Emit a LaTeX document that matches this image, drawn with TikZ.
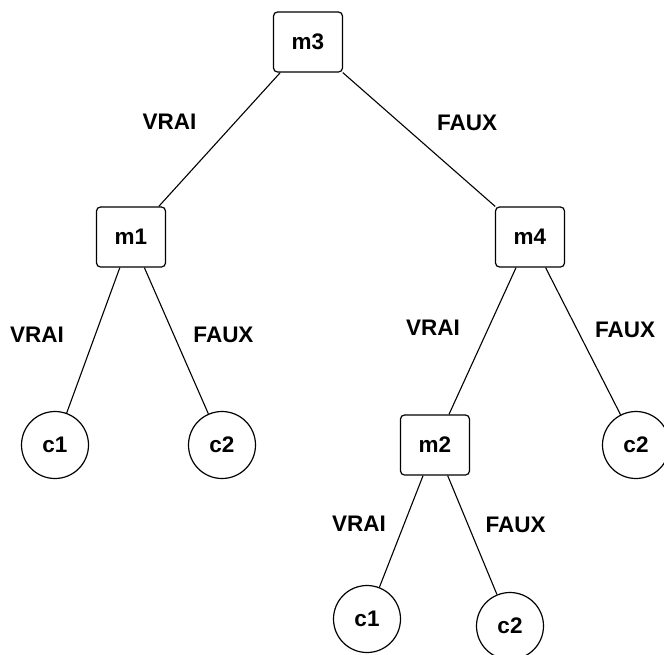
\documentclass[tikz,border=0pt]{standalone}
\usepackage{fontspec}
\setmainfont{Liberation Sans}
\begin{document}
\begin{tikzpicture}[x=1pt,y=-1pt,
  every node/.style={font=\fontsize{22.5}{26}\selectfont\bfseries},
  mbox/.style={draw, line width=1.2pt, rounded corners=4pt, minimum width=69pt, minimum height=60pt, inner sep=0pt},
  cnode/.style={draw, circle, line width=1.2pt, minimum size=67pt, inner sep=0pt},
  edge/.style={line width=1.1pt},
  lbl/.style={inner sep=0pt}]
\useasboundingbox (0,0) rectangle (664,654);
\node[mbox] (m3) at (308,42) {m3};
\node[mbox] (m1) at (131,237) {m1};
\node[mbox] (m4) at (530,237) {m4};
\node[mbox] (m2) at (435,445) {m2};
\node[cnode] (c1a) at (55,445) {c1};
\node[cnode] (c2a) at (222,445) {c2};
\node[cnode] (c2b) at (636,445) {c2};
\node[cnode] (c1b) at (367,619) {c1};
\node[cnode] (c2c) at (510,626) {c2};
\draw[edge] (m3) -- (m1);
\draw[edge] (m3) -- (m4);
\draw[edge] (m1) -- (c1a);
\draw[edge] (m1) -- (c2a);
\draw[edge] (m4) -- (m2);
\draw[edge] (m4) -- (c2b);
\draw[edge] (m2) -- (c1b);
\draw[edge] (m2) -- (c2c);
\node[lbl] (l1) at (169.5,122) {VRAI};
\node[lbl] (l2) at (467,122.5) {FAUX};
\node[lbl] (l3) at (37,334.5) {VRAI};
\node[lbl] (l4) at (223.5,334.5) {FAUX};
\node[lbl] (l5) at (433,328) {VRAI};
\node[lbl] (l6) at (625,330) {FAUX};
\node[lbl] (l7) at (359,524) {VRAI};
\node[lbl] (l8) at (515.5,525) {FAUX};
\end{tikzpicture}
\end{document}
